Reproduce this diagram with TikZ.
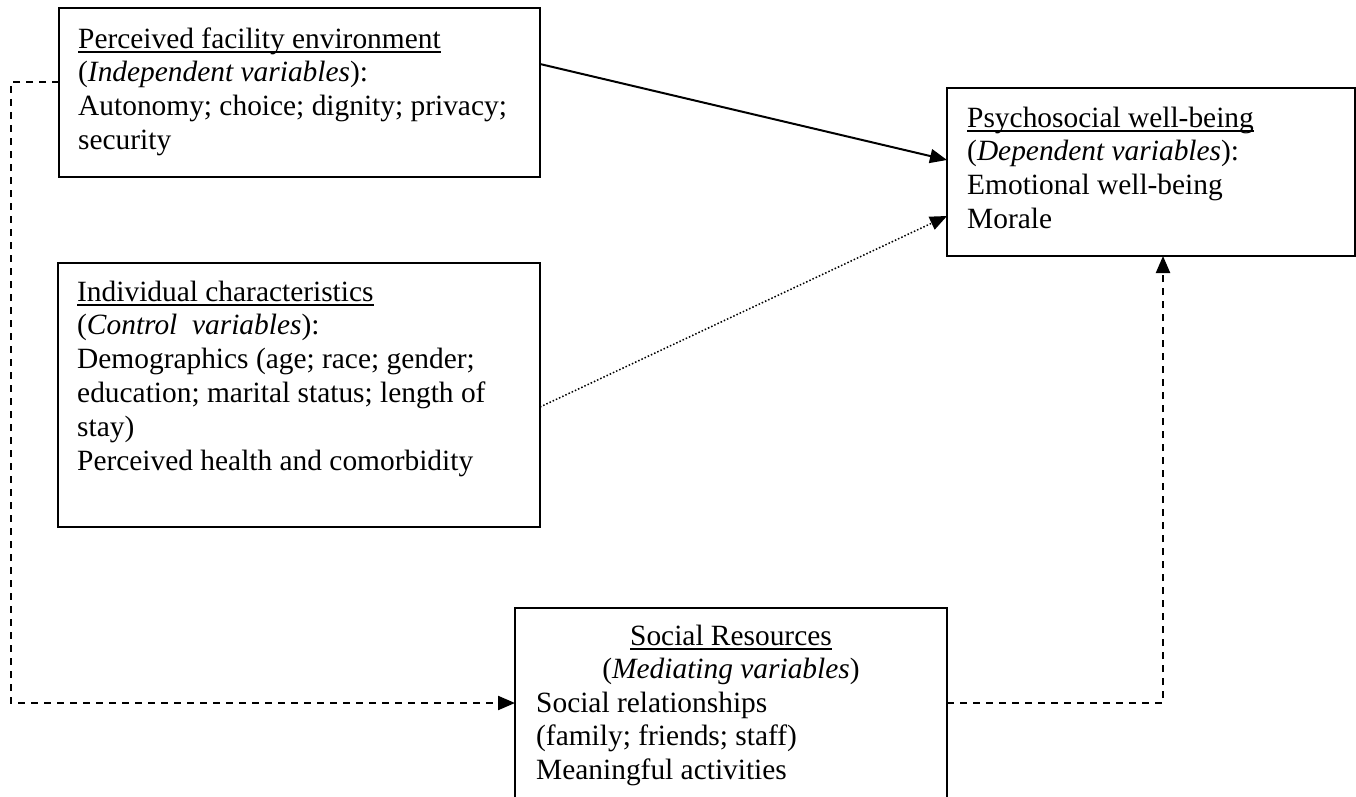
\documentclass[tikz,border=0pt]{standalone}
\usepackage{fontspec}
\setmainfont{Liberation Serif}
\usetikzlibrary{arrows.meta}
\newsavebox\ulbox
\newcommand\ulword[1]{\sbox\ulbox{#1}\rlap{\rule[-4.5pt]{\wd\ulbox}{1.6pt}}\usebox\ulbox}
\begin{document}
\begin{tikzpicture}[x=1pt,y=-1pt,
  box/.style={draw, line width=2.4pt, inner sep=0pt, outer sep=0pt, anchor=north west},
  txt/.style={anchor=base west, align=left, inner sep=0pt, font=\fontsize{29.4}{33.8}\selectfont},
  ctxt/.style={anchor=base, align=center, inner sep=0pt, font=\fontsize{29.4}{33.8}\selectfont},
  conn/.style={line width=2pt, -{Triangle[length=17pt,width=14pt]}},
  dashedconn/.style={conn, line width=2.2pt, dash pattern=on 7pt off 6pt},
  dottedconn/.style={conn, line width=1.5pt, dash pattern=on 1.5pt off 2pt}]
\useasboundingbox (0,0) rectangle (1356,797);
\fill[white] (0,0) rectangle (1356,797);
\clip (0,0) rectangle (1356,797);

\node[box, minimum width=481pt, minimum height=169pt] (b1) at (59,8) {};
\node[txt] (t1) at (78,149.4) {\ulword{Perceived facility environment}\\(\textit{Independent variables}):\\Autonomy; choice; dignity; privacy;\\security};

\node[box, minimum width=408pt, minimum height=168pt] (b2) at (947,88) {};
\node[txt] (t2) at (967,228.4) {\ulword{Psychosocial well-being}\\(\textit{Dependent variables}):\\Emotional well-being\\Morale};

\node[box, minimum width=482pt, minimum height=264pt] (b3) at (58,263) {};
\node[txt] (t3) at (77,470) {\ulword{Individual characteristics}\\(\textit{Control\ \ variables}):\\Demographics (age; race; gender;\\education; marital status; length of\\stay)\\Perceived health and comorbidity};

\node[box, minimum width=432pt, minimum height=240pt] (b4) at (515,608) {};
\node[ctxt] (t4a) at (731,678.8) {\ulword{Social Resources}\\(\textit{Mediating variables})};
\node[txt] (t4b) at (536,779.6) {Social relationships\\(family; friends; staff)\\Meaningful activities};

\coordinate (cl) at (11,703);
\draw[conn] ([yshift=-56pt]b1.north east) -- ([yshift=-72pt]b2.north west);
\draw[dottedconn] ([yshift=-144pt]b3.north east) -- ([yshift=-128pt]b2.north west);
\draw[dashedconn] ([yshift=-74pt]b1.north west) -| (cl) -- ([yshift=-95pt]b4.north west);
\draw[dashedconn] ([yshift=-95pt]b4.north east) -| ([xshift=12pt]b2.south);
\end{tikzpicture}
\end{document}
